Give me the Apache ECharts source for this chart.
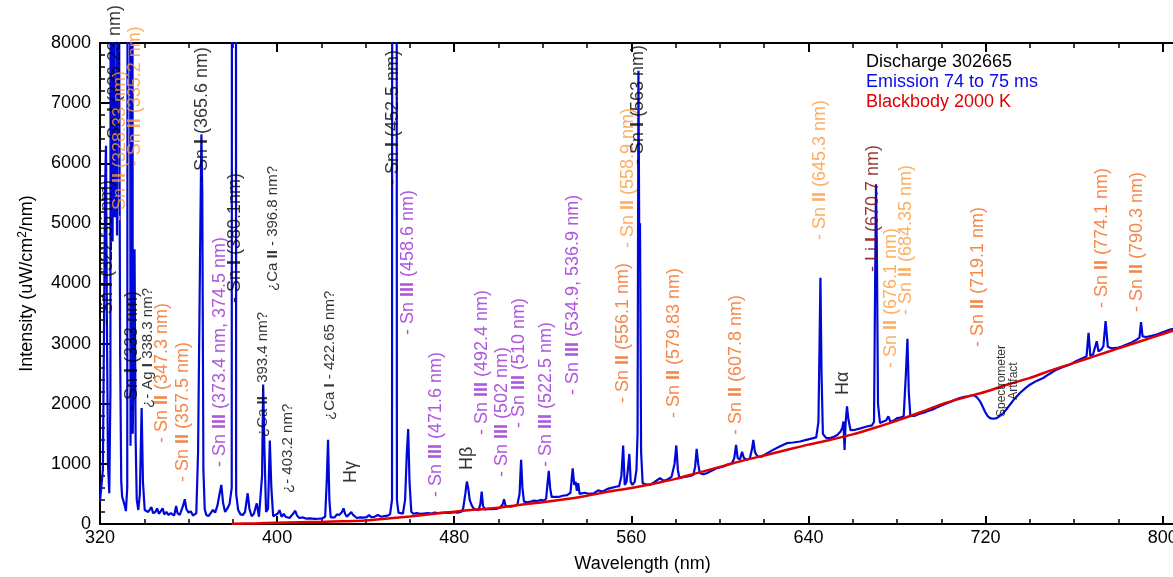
<!DOCTYPE html>
<html><head><meta charset="utf-8">
<script src="https://cdn.jsdelivr.net/npm/echarts@6/dist/echarts.min.js"></script>
<style>html,body{margin:0;padding:0;background:#fff;overflow:hidden}#c{width:1173px;height:577px}</style>
</head><body><div id="c"></div>
<script>
// Emission spectrum, 74 to 75 ms: [wavelength nm, intensity uW/cm^2/nm] (off-scale peaks exceed 8000)
const emission = [
[320.0,370],[320.7,400],[321.3,900],[321.8,3200],[322.3,5600],[322.7,6290],[323.1,3500],[323.6,1000],[324.2,510],[324.7,2200],
[325.1,40000],[325.7,4700],[326.2,40000],[326.7,5100],[327.2,7400],[327.7,4800],[328.2,40000],[328.7,7460],[329.1,2800],[329.6,700],
[330.0,455],[330.6,380],[331.2,300],[331.7,215],[332.3,600],[332.9,40000],[333.5,40000],[333.8,1300],[334.2,40000],[334.8,1500],
[335.6,4570],[336.1,1400],[336.6,400],[337.3,233],[338.0,500],[338.8,1930],[339.4,700],[340.2,233],[341.0,266],[341.8,200],
[342.6,230],[343.2,280],[344.0,180],[345.0,200],[345.8,260],[346.6,170],[347.5,190],[348.3,260],[349.0,160],[350.0,200],
[351.0,150],[352.0,180],[353.5,140],[354.4,300],[355.0,180],[356.0,150],[356.8,230],[357.5,300],[358.3,411],[359.0,250],
[360.0,190],[361.0,210],[362.0,140],[362.6,122],[363.5,180],[364.3,1200],[365.2,4500],[365.8,6480],[366.2,5500],[366.7,900],
[367.3,250],[368.0,150],[369.0,133],[370.0,180],[371.0,233],[372.0,190],[373.0,300],[374.0,500],[374.8,650],[375.6,350],
[376.5,200],[377.4,250],[378.5,330],[379.5,600],[379.9,40000],[381.1,40000],[381.5,500],[382.4,233],[383.5,160],[384.5,150],
[385.5,200],[386.7,511],[387.5,250],[388.5,130],[389.5,170],[390.8,344],[391.8,120],[392.6,130],[393.2,800],[393.7,2320],
[394.3,1200],[395.0,200],[395.9,250],[396.7,1390],[397.4,600],[398.2,130],[399.0,120],[400.2,170],[401.1,230],[402.0,120],
[403.0,170],[403.8,120],[404.7,150],[405.6,100],[406.5,130],[407.4,180],[408.2,220],[409.0,140],[410.0,100],[411.5,110],
[413.0,90],[415.0,95],[417.0,85],[419.0,90],[420.5,95],[421.7,120],[422.4,700],[423.0,1400],[423.6,400],[424.2,110],
[425.0,120],[426.0,110],[427.0,160],[428.0,150],[429.3,200],[430.0,260],[430.7,170],[431.5,120],[432.4,140],[433.5,200],
[434.3,150],[435.0,120],[436.0,100],[437.5,110],[439.0,105],[440.5,115],[441.5,150],[442.5,115],[444.0,120],[445.5,150],
[447.0,120],[448.5,130],[450.0,140],[451.0,160],[451.9,400],[452.2,40000],[453.7,40000],[454.1,400],[454.8,190],[455.8,180],
[456.8,170],[457.8,400],[458.6,1200],[459.2,1578],[459.8,700],[460.6,204],[461.5,170],[463.0,180],[464.5,170],[466.0,175],
[468.0,180],[470.0,175],[471.0,190],[471.8,217],[472.6,180],[474.0,185],[476.0,190],[478.0,185],[480.0,195],[481.5,190],
[483.0,200],[484.0,250],[485.0,500],[485.7,706],[486.3,600],[487.0,398],[488.0,300],[489.0,250],[490.0,240],[491.0,230],
[491.8,330],[492.4,539],[493.0,300],[494.0,240],[495.0,250],[497.0,245],[499.0,250],[500.5,270],[501.8,320],[502.5,411],
[503.2,300],[504.0,280],[505.5,290],[507.0,300],[508.5,320],[509.5,500],[510.2,1067],[510.8,600],[511.5,371],[513.0,360],
[514.5,371],[516.0,390],[517.5,380],[519.0,400],[520.5,390],[521.5,420],[522.2,700],[522.7,883],[523.3,600],[524.0,450],
[525.5,450],[527.0,450],[529.0,470],[531.0,480],[532.5,520],[533.5,926],[534.2,650],[534.8,706],[535.4,550],[536.0,680],
[536.6,500],[537.5,480],[539.0,520],[541.0,500],[543.0,510],[545.0,560],[547.0,540],[549.0,580],[551.0,600],[553.0,620],
[554.5,630],[555.5,800],[556.3,1306],[557.0,650],[557.8,700],[558.4,900],[559.1,1165],[559.7,700],[560.5,650],[561.5,700],
[562.3,900],[562.8,1500],[563.2,7540],[563.6,4500],[563.9,5000],[564.4,1200],[565.1,677],[566.5,660],[568.4,650],[570.5,700],
[572.9,761],[574.5,720],[576.0,733],[577.2,760],[578.2,789],[579.5,1000],[580.3,1306],[581.0,900],[581.7,761],[583.2,780],
[585.0,789],[586.5,800],[588.0,817],[588.8,950],[589.5,1250],[590.2,1000],[590.9,845],[592.5,830],[594.0,845],[596.0,880],
[598.5,928],[601.0,950],[603.0,983],[605.5,1010],[606.5,1100],[607.3,1317],[608.0,1100],[609.0,1070],[610.0,1200],[610.8,1100],
[612.0,1070],[613.5,1090],[614.5,1250],[615.1,1400],[615.8,1200],[617.0,1120],[618.9,1122],[621.0,1170],[624.0,1233],[627.0,1290],
[630.2,1344],[633.0,1355],[636.2,1372],[639.0,1400],[642.2,1428],[643.5,1440],[644.5,1700],[645.0,3000],[645.4,4095],[645.9,2500],
[646.5,1500],[648.0,1430],[649.7,1428],[651.5,1450],[653.0,1480],[654.5,1540],[655.3,1600],[655.8,1706],[656.3,1233],[656.8,1700],
[657.4,1956],[658.0,1750],[659.0,1560],[661.0,1567],[663.5,1590],[666.3,1622],[668.7,1640],[669.6,1700],[670.1,4000],[670.5,5650],
[670.9,4500],[671.4,2000],[672.3,1678],[673.5,1700],[675.0,1720],[676.1,1790],[677.0,1700],[678.5,1720],[680.0,1760],[681.5,1770],
[683.0,1790],[684.0,2500],[684.7,3079],[685.3,2200],[686.0,1800],[688.0,1800],[690.0,1830],[692.0,1850],[694.0,1880],[696.0,1900],
[698.0,1940],[700.0,1970],[702.0,2000],[704.0,2030],[706.0,2060],[708.0,2090],[710.0,2110],[712.0,2125],[714.5,2145],[716.0,2110],
[717.5,2040],[718.7,1950],[719.7,1872],[720.8,1800],[722.0,1761],[723.5,1750],[725.0,1761],[726.5,1800],[728.0,1845],[729.5,1910],
[731.0,1984],[733.0,2080],[735.5,2178],[738.0,2260],[740.0,2317],[743.0,2380],[746.0,2428],[749.0,2500],[752.0,2567],[755.0,2610],
[758.0,2650],[761.0,2710],[764.0,2762],[765.6,2790],[766.5,3178],[767.3,2800],[768.5,2820],[769.4,2850],[770.2,3039],[771.0,2870],
[772.2,2900],[773.2,2956],[774.2,3373],[775.2,2950],[777.0,2920],[779.2,2928],[781.5,2950],[783.7,2984],[786.0,3020],[788.2,3067],
[789.5,3100],[790.2,3356],[790.9,3120],[792.5,3110],[795.0,3130],[797.3,3150],[800.0,3190],[803.3,3234],[805.0,3250]
];

// Blackbody 2000 K curve
const bbWavelength = [379.5,390,400,410,420,430,440,450,460,470,480,490,500,510,520,530,540,550,560,570,580,590,600,610,620,630,640,650,660,670,680,690,700,710,720,730,740,750,760,770,780,790,800,805];
const bbIntensity  = [5,10,20,28,35,45,58,90,125,165,205,240,270,320,360,410,470,540,600,670,750,850,950,1050,1140,1230,1320,1400,1490,1600,1720,1850,1990,2100,2200,2320,2430,2560,2680,2800,2920,3040,3160,3220];

// Line identifications
const lineLabels = ['- Sn I (322.36 nm)','- Sn I (326.23 nm)','- Sn II (328.33 nm)','- Sn II (335.2 nm)','- Sn I (333 nm)','¿- Ag I 338.3 nm?',
 '- Sn II (347.3 nm)','- Sn II (357.5 nm)','- Sn I (365.6 nm)','- Sn III (373.4 nm, 374.5 nm)','- Sn I (380.1nm)','¿Ca II - 393.4 nm?',
 '¿Ca II - 396.8 nm?','¿- 403.2 nm?','¿Ca I - 422.65 nm?','Hγ','- Sn I (452.5 nm)','- Sn III (458.6 nm)','- Sn III (471.6 nm)','Hβ',
 '- Sn III (492.4 nm)','- Sn III (502 nm)','- Sn III (510 nm)','- Sn III (522.5 nm)','- Sn III (534.9, 536.9 nm)','- Sn II (556.1 nm)',
 '- Sn II (558.9 nm)','- Sn I (563 nm)','- Sn II (579.83 nm)','- Sn II (607.8 nm)','- Sn II (645.3 nm)','Hα','- Li I (670.7 nm)',
 '- Sn II (676.1 nm)','- Sn II (684.35 nm)','- Sn II (719.1 nm)','Spectrometer\nArtifact','- Sn II (774.1 nm)','- Sn II (790.3 nm)'];
const lineLabelNm = [323.2,327.0,329.0,336.0,334.3,341.8,347.9,357.6,365.9,374.2,381.0,393.5,398.0,405.0,423.9,433.2,452.5,459.3,471.8,485.6,
 492.4,501.4,509.4,521.4,533.5,556.4,558.6,563.1,579.3,607.3,645.2,655.7,669.3,677.3,684.0,716.7,729.9,772.7,788.5];
const lineLabelAt = [3310,6220,5040,5950,1879,1929,1347,699,5688,948,3675,1447,3875,516,1730,682,5638,3143,449,898,
 1480,782,1597,948,2146,2012,4590,5971,1763,1480,4723,2146,4191,2595,3476,2944,2378,3592,3526];
const lineLabelKind = ['k','k','ol','ol','k','ks','o','o','k','p','k','ks','ks','ks','ks','k','k','p','p','k',
 'p','p','p','p','p','o','ol','k','o','o','ol','k','r','ol','ol','o','a','o','o'];

const legendLines = ['Discharge 302665','Emission 74 to 75 ms','Blackbody 2000 K'];

const FONT = '"Liberation Sans", Arial, Helvetica, sans-serif';
const kindStyle = {
  k:  {color:'#000000', size:18},
  ks: {color:'#000000', size:15},
  o:  {color:'#f26a1c', size:18},
  ol: {color:'#fb9a3a', size:18},
  p:  {color:'#9a2cd4', size:18},
  r:  {color:'#800000', size:18},
  a:  {color:'#000000', size:12}
};

const labelData = lineLabels.map((t, i) => {
  const s = kindStyle[lineLabelKind[i]];
  const isArt = lineLabelKind[i] === 'a';
  const txt = isArt ? t : t.replace(/(^|\s)(I{1,3})(?=\s|$)/g, '$1{b|$2}');
  return {
    value: [lineLabelNm[i], lineLabelAt[i]],
    txt: txt,
    label: {
      color: s.color, fontSize: s.size, fontFamily: FONT,
      align: isArt ? 'center' : 'left', verticalAlign: 'middle',
      lineHeight: isArt ? 12 : s.size + 2,
      rich: { b: { fontWeight: 'bold', fontSize: s.size, fontFamily: FONT, color: s.color } }
    }
  };
});

const chart = echarts.init(document.getElementById('c'), null, {renderer: 'canvas'});
const axisCommon = {
  type: 'value', min: 320, max: 820, interval: 80,
  splitLine: {show: false}
};
chart.setOption({
  animation: false,
  backgroundColor: '#ffffff',
  textStyle: {fontFamily: FONT},
  grid: {left: 100, top: 43, right: -34, bottom: 53, containLabel: false, outerBoundsMode: 'none'},
  xAxis: [
    Object.assign({}, axisCommon, {
      position: 'bottom',
      axisLine: {show: true, onZero: false, lineStyle: {color: '#000', width: 2}},
      axisTick: {show: true, inside: true, length: 8, lineStyle: {color: '#000', width: 2}},
      minorTick: {show: true, splitNumber: 4, length: 5, lineStyle: {color: '#000', width: 1.5}},
      axisLabel: {fontSize: 18, color: '#000', margin: 5, fontFamily: FONT, showMaxLabel: false},
      name: 'Wavelength (nm)', nameLocation: 'middle', nameGap: 31,
      nameTextStyle: {fontSize: 18, color: '#000', fontFamily: FONT, padding: [0, 22, 0, 0]}
    }),
    Object.assign({}, axisCommon, {
      position: 'top',
      axisLine: {show: true, onZero: false, lineStyle: {color: '#000', width: 2}},
      axisTick: {show: true, inside: true, length: 9, lineStyle: {color: '#000', width: 2}},
      minorTick: {show: true, splitNumber: 4, length: 5, lineStyle: {color: '#000', width: 1.5}},
      axisLabel: {show: false}
    })
  ],
  yAxis: {
    type: 'value', min: 0, max: 8000, interval: 1000,
    axisLine: {show: true, onZero: false, lineStyle: {color: '#000', width: 2}},
    axisTick: {show: true, inside: true, length: 10, lineStyle: {color: '#000', width: 2}},
    minorTick: {show: true, splitNumber: 5, length: 5, lineStyle: {color: '#000', width: 1.5}},
    splitLine: {show: false},
    axisLabel: {fontSize: 18, color: '#000', margin: 9, fontFamily: FONT, formatter: v => String(v)},
    name: 'Intensity (uW/cm{sup|2}/nm)', nameLocation: 'middle', nameGap: 62,
    nameTextStyle: {fontSize: 18, color: '#000', fontFamily: FONT,
      rich: {sup: {fontSize: 12, color: '#000', fontFamily: FONT, padding: [0, 0, 9, 0]}}}
  },
  graphic: legendLines.map((t, i) => ({
    type: 'text', left: 866, top: 53 + i * 20, z: 100,
    style: {text: t, fill: ['#000000', '#0a0ae6', '#e00000'][i], fontSize: 18, fontFamily: FONT}
  })),
  series: [
    {
      type: 'line', name: 'Emission', data: emission, showSymbol: false, symbol: 'none',
      lineStyle: {color: '#0008d8', width: 2.2}, clip: true, z: 2
    },
    {
      type: 'line', name: 'Blackbody',
      data: bbWavelength.map((w, i) => [w, bbIntensity[i]]),
      showSymbol: false, symbol: 'none', smooth: 0.3,
      lineStyle: {color: '#e00000', width: 2.5}, clip: true, z: 3
    },
    {
      type: 'scatter', name: 'labels', data: labelData, symbolSize: 1,
      itemStyle: {color: 'rgba(0,0,0,0)'}, silent: true, z: 4, clip: false,
      label: {show: true, position: 'inside', rotate: 90, formatter: p => p.data.txt}
    }
  ]
});
</script>
</body></html>
